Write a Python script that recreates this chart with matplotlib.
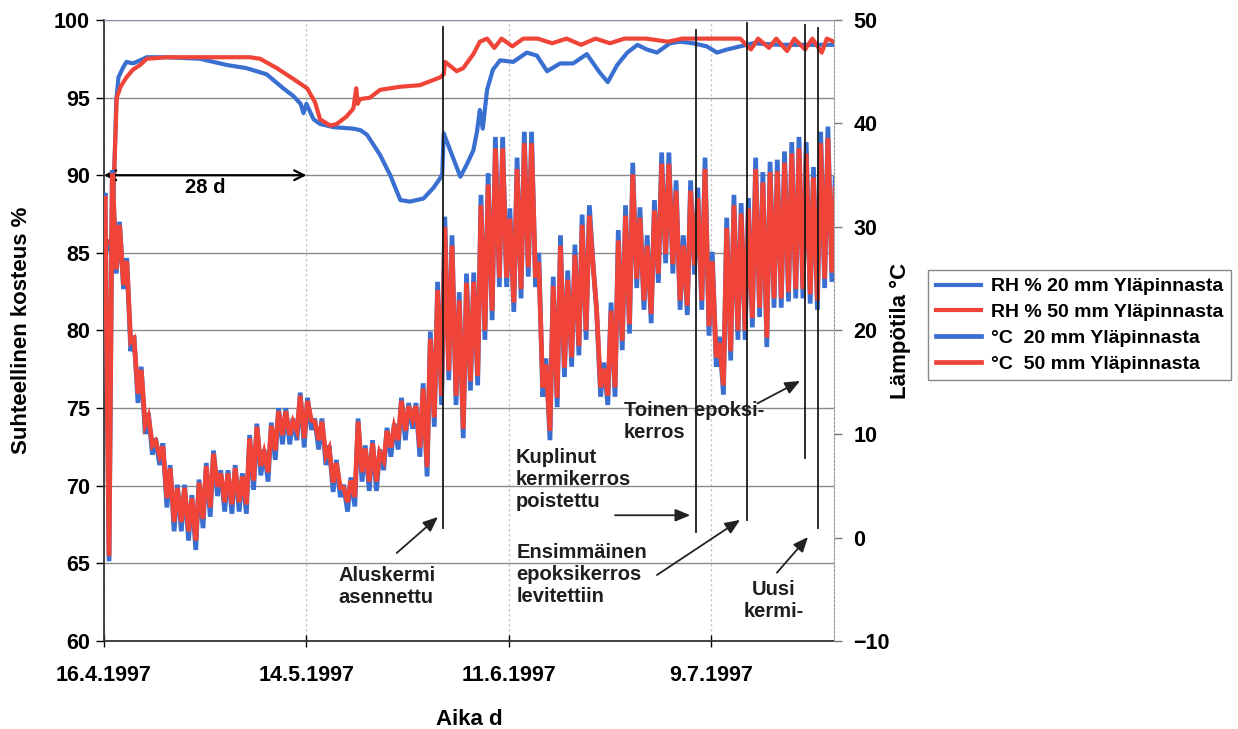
import numpy as np
import matplotlib
matplotlib.use("Agg")
import matplotlib.pyplot as plt

plt.rcParams["font.family"] = ["Liberation Sans", "DejaVu Sans"]
plt.rcParams["font.weight"] = "bold"
plt.rcParams["axes.labelweight"] = "bold"

# x axis: days counted from 16.4.1997
tick_days = [0, 28, 56, 84]
tick_labels = ["16.4.1997", "14.5.1997", "11.6.1997", "9.7.1997"]

# relative humidity, 20 mm below the top surface
rh20_day = [0.0, 1.0, 1.5, 1.7, 2.0, 2.6, 3.1, 4.0, 5.0, 5.9, 8.7, 13.3, 14.2,
            17.0, 19.7, 22.5, 24.8, 26.2, 27.2, 27.6, 28.0, 29.0, 29.9, 31.7,
            34.5, 35.5, 36.4, 38.2, 39.6, 41.0, 42.3, 44.2, 45.6, 46.5, 46.8,
            47.0, 47.9, 49.3, 50.2, 51.1, 51.6, 52.0, 52.4, 53.0, 53.8, 54.8,
            56.6, 58.5, 59.9, 61.3, 63.1, 64.9, 66.8, 68.6, 69.7, 71.0, 72.4,
            73.8, 75.1, 76.5, 78.3, 79.7, 81.5, 83.4, 84.8, 86.2, 88.0, 89.8,
            93.5, 97.3, 101.0]
rh20 = [86.0, 85.0, 91.5, 94.8, 96.3, 96.9, 97.3, 97.2, 97.4, 97.6, 97.6, 97.5,
        97.4, 97.1, 96.9, 96.5, 95.6, 95.1, 94.6, 94.0, 94.6, 93.6, 93.3, 93.1,
        93.0, 92.9, 92.6, 91.3, 90.0, 88.4, 88.3, 88.5, 89.2, 89.8, 90.1, 92.7,
        91.6, 89.9, 90.7, 91.6, 92.8, 94.2, 93.0, 95.5, 96.8, 97.4, 97.3, 97.9,
        97.7, 96.7, 97.2, 97.2, 97.8, 96.6, 96.0, 97.1, 97.9, 98.4, 98.1, 97.9,
        98.5, 98.6, 98.5, 98.3, 97.9, 98.1, 98.3, 98.5, 98.4, 98.4, 98.4]

# relative humidity, 50 mm below the top surface
rh50_day = [0.0, 1.0, 1.4, 1.76, 2.3, 3.1, 4.0, 5.0, 5.9, 8.7, 20.2, 21.6,
            23.9, 26.2, 28.1, 29.2, 29.9, 31.3, 32.2, 33.6, 34.5, 34.9, 35.1,
            35.4, 36.8, 38.2, 41.0, 43.7, 46.5, 47.0, 47.2, 48.8, 49.7, 51.1,
            52.0, 53.0, 54.0, 55.0, 56.5, 58.0, 60.0, 62.0, 64.0, 66.0, 68.0,
            70.0, 72.0, 75.0, 78.0, 80.0, 84.0, 88.0, 89.5, 90.5, 92.0, 93.0,
            94.5, 95.5, 97.0, 98.0, 99.3, 100.0, 101.0]
rh50 = [86.0, 85.5, 90.0, 95.0, 95.7, 96.3, 96.8, 97.1, 97.5, 97.6, 97.6, 97.5,
        96.9, 96.2, 95.6, 94.7, 93.6, 93.2, 93.3, 93.8, 94.3, 95.6, 94.6, 94.9,
        95.0, 95.5, 95.7, 95.8, 96.3, 96.5, 97.3, 96.7, 96.9, 97.8, 98.6, 98.8,
        98.2, 98.8, 98.3, 98.8, 98.8, 98.5, 98.8, 98.4, 98.8, 98.5, 98.8, 98.8,
        98.6, 98.8, 98.8, 98.8, 98.1, 98.8, 98.2, 98.8, 98.0, 98.8, 98.1, 98.8,
        97.9, 98.8, 98.6]

# daily temperature peaks and night-time lows, 20 mm
t20_hi = [33.3, 35.5, 30.5, 27.0, 19.5, 16.5, 12.0, 9.6, 9.1, 7.0,
          5.1, 5.1, 4.1, 5.6, 7.2, 8.4, 6.5, 6.5, 7.0, 6.2,
          9.9, 11.0, 8.5, 11.1, 12.5, 12.5, 11.5, 14.0, 13.5, 11.5,
          11.5, 8.9, 7.5, 5.1, 5.8, 11.5, 8.9, 9.4, 8.5, 10.6,
          11.0, 13.5, 13.0, 13.0, 14.9, 19.9, 24.7, 31.0, 29.2, 23.7,
          25.5, 25.6, 33.1, 35.2, 38.7, 38.7, 31.8, 36.7, 39.2, 39.2,
          27.5, 17.3, 25.2, 29.2, 25.8, 28.3, 31.2, 32.1, 22.0, 16.9,
          22.7, 29.7, 32.1, 36.2, 31.9, 29.2, 32.6, 37.2, 37.2, 34.5,
          29.2, 34.5, 33.8, 36.7, 27.6, 19.4, 30.9, 33.1, 32.3, 32.8,
          36.7, 35.3, 36.3, 36.5, 37.3, 38.2, 38.7, 38.2, 35.8, 39.2,
          39.7, 34.7]
t20_lo = [26.0, -2.3, 25.5, 24.0, 18.0, 13.0, 10.0, 8.0, 7.0, 2.9,
          0.6, 0.6, -0.3, -1.2, 0.9, 2.0, 4.0, 2.5, 2.3, 2.5,
          2.3, 4.6, 6.0, 5.4, 7.5, 9.0, 9.0, 9.4, 8.7, 10.4,
          8.5, 7.0, 4.4, 3.9, 2.5, 3.0, 5.4, 4.5, 4.5, 6.5,
          7.8, 8.5, 9.4, 10.5, 7.8, 5.9, 10.7, 12.8, 15.2, 12.8,
          9.6, 14.2, 14.7, 19.1, 21.0, 24.2, 24.2, 21.8, 23.1, 25.2,
          24.2, 13.6, 9.4, 12.6, 15.5, 16.5, 17.6, 19.1, 26.0, 13.6,
          12.8, 13.6, 18.1, 19.7, 24.1, 22.0, 20.7, 24.6, 26.5, 25.5,
          22.0, 21.5, 25.4, 22.0, 19.5, 16.5, 13.8, 17.1, 19.1, 19.1,
          20.3, 21.3, 18.4, 22.2, 22.2, 22.8, 23.1, 23.1, 22.6, 22.0,
          24.1, 24.7]

# daily temperature peaks and night-time lows, 50 mm
t50_hi = [33.0, 35.2, 30.2, 26.7, 19.2, 16.2, 11.7, 9.3, 8.8, 6.7,
          4.8, 4.8, 3.8, 5.3, 6.9, 8.1, 6.2, 6.2, 6.7, 5.9,
          9.6, 10.7, 8.2, 10.8, 12.2, 12.2, 11.2, 13.7, 13.2, 11.2,
          11.2, 8.6, 7.2, 4.8, 5.5, 11.2, 8.6, 9.1, 8.2, 10.3,
          10.7, 13.2, 12.7, 12.7, 14.4, 19.2, 23.9, 30.0, 28.2, 22.9,
          24.6, 24.7, 32.1, 34.1, 37.6, 37.6, 30.8, 35.6, 38.1, 38.1,
          26.6, 16.7, 24.3, 28.2, 24.9, 27.3, 30.2, 31.1, 22.0, 16.3,
          21.9, 28.7, 31.1, 35.1, 30.9, 28.2, 31.6, 36.1, 36.1, 33.5,
          28.2, 33.5, 32.8, 35.6, 26.7, 18.8, 29.9, 32.1, 31.3, 31.8,
          35.6, 34.3, 35.3, 35.4, 36.2, 37.1, 37.6, 37.1, 34.8, 38.1,
          38.6, 33.7]
t50_lo = [26.0, -1.8, 25.9, 24.4, 18.9, 13.9, 10.9, 8.9, 7.9, 3.8,
          1.5, 1.5, 0.6, -0.3, 1.8, 2.9, 4.9, 3.4, 3.2, 3.4,
          3.2, 5.5, 6.9, 6.3, 8.4, 9.9, 9.9, 10.3, 9.6, 11.3,
          9.4, 7.9, 5.3, 4.8, 3.4, 3.9, 6.3, 5.4, 5.4, 7.4,
          8.7, 9.4, 10.3, 11.4, 8.7, 6.8, 11.6, 13.7, 16.1, 13.7,
          10.5, 15.1, 15.6, 20.0, 21.9, 25.1, 25.1, 22.7, 24.0, 26.1,
          25.1, 14.5, 10.3, 13.5, 16.4, 17.4, 18.5, 20.0, 26.0, 14.5,
          13.7, 14.5, 19.0, 20.6, 25.0, 22.9, 21.6, 25.5, 27.4, 26.4,
          22.9, 22.4, 26.3, 22.9, 20.4, 17.4, 14.7, 18.0, 20.0, 20.0,
          21.2, 22.2, 19.3, 23.1, 23.1, 23.7, 24.0, 24.0, 23.5, 22.9,
          25.0, 25.6]

# site works (day numbers)
event_days = [46.9, 81.9, 88.9, 97.0, 98.8]

BLUE = "#3a6fd2"
RED = "#ef4437"

# lows fall early in the day, peaks in the afternoon
days = np.arange(len(t20_hi))
t_time = np.empty(2 * len(days))
t_time[0::2] = days - 0.3
t_time[1::2] = days + 0.15


def zigzag(lo, hi):
    out = np.empty(2 * len(lo))
    out[0::2] = lo
    out[1::2] = hi
    return out


fig = plt.figure(figsize=(12.38, 7.29), dpi=100)
ax = fig.add_axes([0.0840, 0.1207, 0.5897, 0.8519])
ax2 = ax.twinx()

ax.plot(rh20_day, rh20, color=BLUE, lw=3.0, label="RH % 20 mm Yläpinnasta")
ax.plot(rh50_day, rh50, color=RED, lw=3.0, label="RH % 50 mm Yläpinnasta")
ax2.plot(t_time, zigzag(t20_lo, t20_hi), color=BLUE, lw=3.4,
         solid_joinstyle="miter", label="°C  20 mm Yläpinnasta")
ax2.plot(t_time, zigzag(t50_lo, t50_hi), color=RED, lw=3.4,
         solid_joinstyle="miter", label="°C  50 mm Yläpinnasta")

ax.set_xlim(0, 101)
ax.set_ylim(60, 100)
ax2.set_ylim(-10, 50)

ax.set_xticks(tick_days)
ax.set_xticklabels(tick_labels)
ax.set_yticks(np.arange(60, 101, 5))
ax2.set_yticks(np.arange(-10, 51, 10))

ax.grid(axis="y", color="#8a8a8a", lw=1.0)
ax.grid(axis="x", color="#c4c4c4", lw=0.9, ls=(0, (2, 2)))
ax.set_axisbelow(True)

ax.tick_params(axis="y", direction="out", length=6, width=1, pad=4,
               labelsize=15.5)
ax.tick_params(axis="x", direction="inout", length=8, width=1, pad=13,
               labelsize=15.5)
ax2.tick_params(axis="y", direction="out", length=6, width=1, pad=8,
                labelsize=15.5, color="#777777")

for side in ("left", "bottom"):
    ax.spines[side].set_color("#333333")
    ax.spines[side].set_linewidth(1.3)
ax.spines["right"].set_visible(False)
ax.spines["top"].set_color("#8c8ca4")
ax.spines["top"].set_linestyle((0, (3, 1.5)))
for side in ("left", "bottom", "top"):
    ax2.spines[side].set_visible(False)
ax2.spines["right"].set_color("#999999")
ax2.spines["right"].set_linestyle((0, (2, 1.5)))

ax.set_ylabel("Suhteellinen kosteus %", fontsize=16, labelpad=16)
ax2.set_ylabel("Lämpötila °C", fontsize=16, labelpad=0)
ax.set_xlabel("Aika d", fontsize=16, labelpad=17)

# 28 day span
ax.annotate("", xy=(0, 90), xytext=(28, 90),
            arrowprops=dict(arrowstyle="<->,head_length=0.7,head_width=0.35",
                            color="black", lw=1.6, shrinkA=0, shrinkB=0))
ax.text(14, 89.2, "28 d", ha="center", va="center", fontsize=14.5)

# event markers, drawn over the temperature traces
event_span = [(67.3, 99.55), (67.0, 99.35), (67.8, 99.8), (71.8, 99.7),
              (67.3, 99.5)]
for d, (lo, hi) in zip(event_days, event_span):
    ax2.plot([d, d], [lo, hi], color="#1a1a1a", lw=1.3,
             transform=ax.transData)

arrow = dict(arrowstyle="-|>,head_length=0.9,head_width=0.38",
             color="#222222", lw=1.3, shrinkA=0, shrinkB=0)
notes = [
    ("Aluskermi\nasennettu", (32.4, 64.83), "left", (40.5, 65.67), (46.2, 67.99)),
    ("Kuplinut\nkermikerros\npoistettu", (56.9, 72.43), "left",
     (70.7, 68.1), (81.1, 68.1)),
    ("Ensimmäinen\nepoksikerros\nlevitettiin", (57.1, 66.31), "left",
     (76.5, 64.25), (88.0, 67.8)),
    ("Toinen epoksi-\nkerros", (71.9, 75.46), "left",
     (90.4, 75.3), (96.3, 76.75)),
    ("Uusi\nkermi-", (92.6, 63.93), "center", (93.1, 64.4), (97.4, 66.7)),
]
for text, (tx, ty), ha, tail, head in notes:
    ax2.text(tx, ty, text, ha=ha, va="top", fontsize=14.5, linespacing=1.2,
             multialignment=ha, transform=ax.transData, color="#1e1e1e")
    ax2.annotate("", xy=head, xytext=tail, xycoords=ax.transData,
                 textcoords=ax.transData, arrowprops=arrow)

handles = ax.get_lines()[:2] + ax2.get_lines()[:2]
fig.legend(handles, [h.get_label() for h in handles], loc="upper left",
           bbox_to_anchor=(0.742, 0.643), fontsize=14, frameon=True,
           fancybox=False, edgecolor="#888888", framealpha=1,
           borderpad=0.4, labelspacing=0.42, handlelength=2.3,
           handletextpad=0.5)

fig.savefig("out.png", dpi=100)
plt.close(fig)
